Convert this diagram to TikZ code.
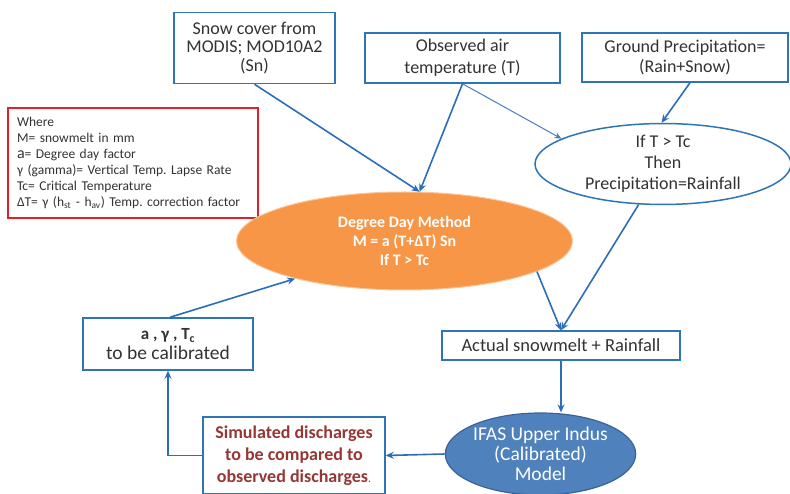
\documentclass[tikz,border=0pt]{standalone}
\usepackage{fontspec}
\setmainfont{Carlito}
\frenchspacing
\hyphenpenalty=10000
\usetikzlibrary{arrows.meta,shapes.geometric,calc}
\definecolor{boxblue}{HTML}{2E75B6}
\definecolor{arrblue}{HTML}{2A6EBB}
\definecolor{thinblue}{HTML}{4A7EBB}
\definecolor{txtgray}{HTML}{333333}
\definecolor{redline}{HTML}{E0202A}
\definecolor{ifasfill}{HTML}{4F81BD}
\definecolor{ifasline}{HTML}{3A6496}
\definecolor{orangefill}{HTML}{F79646}
\definecolor{darkred}{HTML}{953735}
\tikzset{
  bbox/.style={draw=boxblue,line width=1.5pt,fill=white,align=center,text=txtgray,
    inner sep=0pt,font=\fontsize{18}{21}\selectfont},
  arr/.style={-{Stealth[length=8pt,width=7pt]},draw=arrblue,line width=1.6pt},
  thinarr/.style={-{Stealth[length=7pt,width=6pt]},draw=thinblue,line width=1pt},
}
\begin{document}
\begin{tikzpicture}[x=1pt,y=-1pt]
\useasboundingbox (0,0) rectangle (790,494);
% nodes
\node[bbox,minimum width=161pt,minimum height=71pt,font=\fontsize{18}{18.5}\selectfont] (snow) at (254.5,48)
  {Snow cover from\\MODIS; MOD10A2\\(Sn)};
\node[bbox,minimum width=195pt,minimum height=50pt,font=\fontsize{18}{22}\selectfont] (obs) at (462.5,58)
  {Observed air\\temperature (T)};
\node[bbox,minimum width=206pt,minimum height=49pt,font=\fontsize{18}{20}\selectfont] (ground) at (685,57.5)
  {Ground Precipitation=\\(Rain+Snow)};
\node[draw=redline,line width=1.3pt,fill=white,align=left,text=txtgray,
  text width=232pt,minimum height=110pt,inner xsep=9pt,inner ysep=0pt,
  font=\fontsize{13.5}{16}\selectfont] (legend) at (133,163)
  {Where\\M= snowmelt in mm\\{\fontsize{16}{16}\selectfont a}= Degree day factor\\
   γ (gamma)= Vertical Temp. Lapse Rate\\Tc= Critical Temperature\\
   ΔT= γ (h\textsubscript{st} - h\textsubscript{av}) Temp. correction factor};
\node[ellipse,draw=orangefill!55!white,line width=1pt,fill=orangefill,text=white,
  minimum width=336pt,minimum height=98pt,inner sep=0pt,align=center,
  font=\bfseries\fontsize{16}{19}\selectfont] (ddm) at (404.5,241)
  {Degree Day Method\\M = a (T+ΔT) Sn\\If T > Tc};
\node[ellipse,draw=boxblue,line width=1.5pt,fill=white,text=txtgray,
  minimum width=256pt,minimum height=74pt,inner sep=0pt,align=center,
  font=\fontsize{18}{21}\selectfont] (ifc) at (663,164)
  {If T > Tc\\Then\\Precipitation=Rainfall};
\node[bbox,minimum width=238pt,minimum height=29pt,font=\fontsize{18.5}{21}\selectfont] (actual) at (561,345.5)
  {Actual snowmelt + Rainfall};
\node[bbox,minimum width=170pt,minimum height=52pt,font=\fontsize{19.5}{20}\selectfont] (calib) at (168,344)
  {{\fontsize{17}{17}\selectfont\bfseries a , γ , T\textsubscript{c}}\\to be calibrated};
\node[bbox,minimum width=182pt,minimum height=77pt,text=darkred,
  font=\bfseries\fontsize{18}{22}\selectfont] (sim) at (294,455.5)
  {Simulated discharges\\to be compared to\\observed discharges{\mdseries\fontsize{12}{12}\selectfont.}};
\node[ellipse,draw=ifasline,line width=1.2pt,fill=ifasfill,text=white,
  minimum width=177pt,minimum height=82pt,inner sep=0pt,align=center,
  font=\fontsize{19.5}{20}\selectfont] (ifas) at (540.5,454)
  {IFAS Upper Indus\\(Calibrated)\\Model};
% connectors
\coordinate (meet) at (ddm.73);
\draw[arr] (snow.south) -- (meet);
\draw[arr] (obs.south) -- (meet);
\draw[thinarr] (obs.south) -- (ifc.166);
\draw[arr] ([xshift=5pt]ground.south) -- (ifc.92);
\draw[arr] (ifc.-121) -- (actual.north);
\draw[arr] (ddm.-13) -- (actual.north);
\draw[arr] (actual.south) -- (actual.south |- ifas.north);
\draw[arr] (ifas.west) -- (sim.east);
\draw[arr] (sim.west) -| (calib.south);
\draw[arr] ([xshift=2pt]calib.north) -- (ddm.199);
\end{tikzpicture}
\end{document}
